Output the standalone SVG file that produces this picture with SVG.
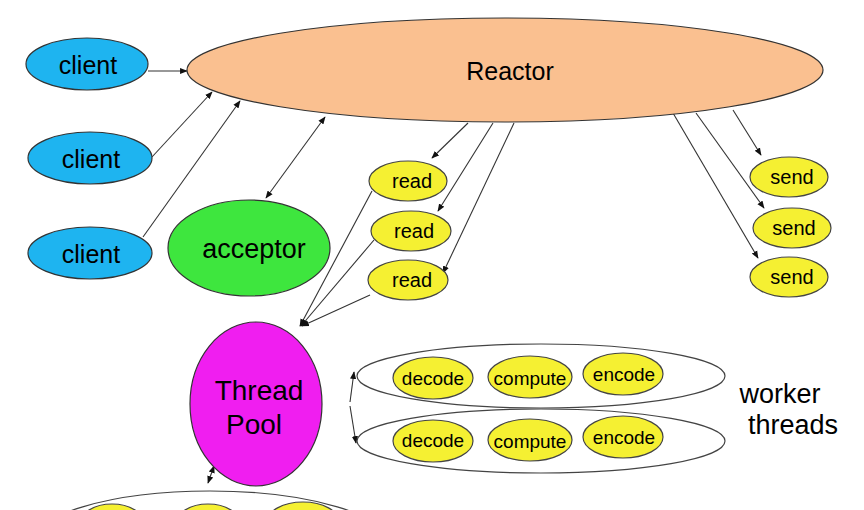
<svg xmlns="http://www.w3.org/2000/svg" width="864" height="510" viewBox="0 0 864 510">
<style>
text{font-family:"Liberation Sans",Arial,sans-serif;text-anchor:middle;dominant-baseline:central;fill:#000}
.e{stroke:#333;stroke-width:1.2}
.y{fill:#f5f032;stroke:#444;stroke-width:1.2}
.c{stroke:#333;stroke-width:1.1;fill:none;marker-end:url(#a)}
.d{marker-start:url(#a)}
</style>
<defs><marker id="a" viewBox="0 0 10 10" refX="9" refY="5" markerWidth="7" markerHeight="7" orient="auto-start-reverse"><path d="M0,1L10,5L0,9z" fill="#111"/></marker></defs>
<rect width="864" height="510" fill="#fff"/>
<g id="connectors">
<line class="c" x1="148" y1="71" x2="187" y2="71"/>
<line class="c" x1="152" y1="157" x2="212" y2="92"/>
<line class="c" x1="143" y1="237" x2="240" y2="101"/>
<line class="c d" x1="325" y1="117" x2="266" y2="198"/>
<line class="c" x1="468" y1="123" x2="432" y2="158"/>
<line class="c" x1="493" y1="123" x2="438" y2="211"/>
<line class="c" x1="514" y1="123" x2="443" y2="273"/>
<line class="c" x1="372" y1="191" x2="300" y2="326"/>
<line class="c" x1="374" y1="240" x2="301" y2="326"/>
<line class="c" x1="370" y1="295" x2="302" y2="326"/>
<line class="c" x1="733" y1="110" x2="761" y2="155"/>
<line class="c" x1="696" y1="113" x2="764" y2="208"/>
<line class="c" x1="673" y1="113" x2="758" y2="258"/>
<line class="c" x1="350" y1="402" x2="354" y2="372"/>
<line class="c" x1="350" y1="406" x2="356" y2="443"/>
<line class="c d" x1="208" y1="483" x2="214" y2="466"/>
</g>
<g id="reactor"><ellipse class="e" cx="505" cy="70" rx="318" ry="52" fill="#fac090"/><text x="510" y="71" font-size="25">Reactor</text></g>
<g id="client1"><ellipse class="e" cx="87" cy="64" rx="61" ry="26" fill="#1eb4f0"/><text x="88" y="65" font-size="25">client</text></g>
<g id="client2"><ellipse class="e" cx="90" cy="158" rx="62" ry="26" fill="#1eb4f0"/><text x="91" y="159" font-size="25">client</text></g>
<g id="client3"><ellipse class="e" cx="90" cy="253" rx="62" ry="26" fill="#1eb4f0"/><text x="91" y="254" font-size="25">client</text></g>
<g id="acceptor"><ellipse class="e" cx="249" cy="248" rx="81" ry="48" fill="#3ee63e"/><text x="254" y="249" font-size="27">acceptor</text></g>
<g id="read1"><ellipse class="y" cx="408" cy="181" rx="39" ry="20"/><text x="412" y="181" font-size="20">read</text></g>
<g id="read2"><ellipse class="y" cx="411" cy="231" rx="40" ry="20"/><text x="414" y="231" font-size="20">read</text></g>
<g id="read3"><ellipse class="y" cx="408" cy="280" rx="40" ry="20"/><text x="412" y="280" font-size="20">read</text></g>
<g id="send1"><ellipse class="y" cx="789" cy="177" rx="39" ry="20"/><text x="792" y="177" font-size="20">send</text></g>
<g id="send2"><ellipse class="y" cx="792" cy="228" rx="39" ry="20"/><text x="794" y="228" font-size="20">send</text></g>
<g id="send3"><ellipse class="y" cx="789" cy="277" rx="39" ry="20"/><text x="792" y="277" font-size="20">send</text></g>
<g id="threadpool"><ellipse class="e" cx="256" cy="404" rx="66" ry="82" fill="#f01ef0"/><text x="259" y="390" font-size="28">Thread</text><text x="254" y="424" font-size="28">Pool</text></g>
<g id="worker1"><ellipse cx="541" cy="376" rx="184" ry="32" fill="#fff" stroke="#444" stroke-width="1.2"/>
<ellipse class="y" cx="433" cy="378" rx="40" ry="21"/><text x="433" y="378" font-size="19">decode</text>
<ellipse class="y" cx="530" cy="377" rx="42" ry="21"/><text x="530" y="378" font-size="19">compute</text>
<ellipse class="y" cx="623" cy="374" rx="40" ry="21"/><text x="624" y="374" font-size="19">encode</text></g>
<g id="worker2"><ellipse cx="541" cy="441" rx="184" ry="32" fill="#fff" stroke="#444" stroke-width="1.2"/>
<ellipse class="y" cx="433" cy="441" rx="40" ry="21"/><text x="433" y="440" font-size="19">decode</text>
<ellipse class="y" cx="530" cy="440" rx="42" ry="21"/><text x="530" y="441" font-size="19">compute</text>
<ellipse class="y" cx="623" cy="437" rx="40" ry="21"/><text x="624" y="437" font-size="19">encode</text></g>
<g id="workerlabel"><text x="780" y="394" font-size="27">worker</text><text x="793" y="425" font-size="27">threads</text></g>
<g id="bottom"><ellipse cx="210" cy="545" rx="180" ry="54" fill="#fff" stroke="#444" stroke-width="1.2"/>
<ellipse class="y" cx="112" cy="524" rx="32" ry="20"/><ellipse class="y" cx="208" cy="524" rx="32" ry="20"/><ellipse class="y" cx="303" cy="522" rx="36" ry="20"/></g>
</svg>
